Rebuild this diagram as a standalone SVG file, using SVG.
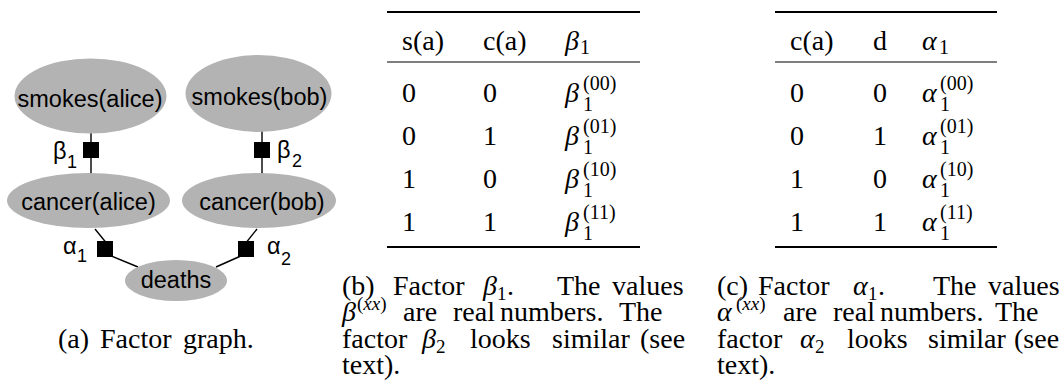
<svg xmlns="http://www.w3.org/2000/svg" width="1060" height="385" viewBox="0 0 1060 385">
<style>
.node{fill:#b3b3b3;stroke:none}
.nl{font-family:"Liberation Sans",Arial,sans-serif;font-size:23.5px;fill:#000;text-anchor:middle}
.fl{font-family:"Liberation Sans",Arial,sans-serif;font-size:23.5px;fill:#000}
.fs{font-size:18px}
.edge{stroke:#000;stroke-width:1.4;fill:none}
.fac{fill:#000}
.t{font-family:"Liberation Serif","Times New Roman",serif;font-size:28px;fill:#000}
.c{font-family:"Liberation Serif","Times New Roman",serif;font-size:28px;fill:#000}
.m{font-style:italic}
.s{font-size:19px}
.ss{font-size:20px}
.thick{stroke:#000;stroke-width:2}
.thin{stroke:#000;stroke-width:1.1}
</style>
<rect width="1060" height="385" fill="#fff"/>
<g id="connectors">
<line class="edge" x1="91" y1="132" x2="91" y2="174"/>
<line class="edge" x1="262" y1="131" x2="262" y2="174"/>
<line class="edge" x1="95" y1="229" x2="108" y2="245"/>
<line class="edge" x1="104" y1="253" x2="138" y2="267"/>
<line class="edge" x1="257" y1="229" x2="245" y2="244"/>
<line class="edge" x1="243" y1="255" x2="216" y2="267"/>
</g>
<g id="smokes_alice"><ellipse class="node" cx="90.5" cy="96" rx="76" ry="37.5"/><text class="nl" x="90" y="107">smokes(alice)</text></g>
<g id="smokes_bob"><ellipse class="node" cx="258.5" cy="93.5" rx="73" ry="38.5"/><text class="nl" x="259.5" y="105">smokes(bob)</text></g>
<g id="cancer_alice"><ellipse class="node" cx="88.5" cy="200.5" rx="81.5" ry="27.5"/><text class="nl" x="88.5" y="210">cancer(alice)</text></g>
<g id="cancer_bob"><ellipse class="node" cx="259" cy="200.5" rx="77" ry="27.5"/><text class="nl" x="262" y="210">cancer(bob)</text></g>
<g id="deaths"><ellipse class="node" cx="176" cy="280.5" rx="51" ry="20.5"/><text class="nl" x="176" y="288">deaths</text></g>
<g id="beta1"><rect class="fac" x="83" y="142" width="16" height="16"/><text class="fl" x="53" y="159">β</text><text class="fl fs" x="67" y="168">1</text></g>
<g id="beta2"><rect class="fac" x="254" y="142" width="16" height="16"/><text class="fl" x="277" y="158">β</text><text class="fl fs" x="292" y="167">2</text></g>
<g id="alpha1"><rect class="fac" x="97" y="241" width="16" height="16"/><text class="fl" x="63" y="254">α</text><text class="fl fs" x="77" y="262">1</text></g>
<g id="alpha2"><rect class="fac" x="238" y="241" width="16" height="16"/><text class="fl" x="267" y="254">α</text><text class="fl fs" x="281" y="265">2</text></g>
<text class="c" y="348"><tspan x="58">(a)</tspan><tspan x="100">Factor</tspan><tspan x="183">graph.</tspan></text>

<g id="table_beta">
<line class="thick" x1="387" y1="12" x2="640" y2="12"/>
<line class="thin" x1="387" y1="62" x2="640" y2="62"/>
<line class="thick" x1="387" y1="247" x2="640" y2="247"/>
<text class="t" y="50"><tspan x="402">s(a)</tspan><tspan x="483">c(a)</tspan><tspan x="565" class="m">β</tspan></text>
<text class="t ss" x="580" y="54">1</text>
<text class="t" y="102"><tspan x="402">0</tspan><tspan x="483">0</tspan><tspan x="565" class="m">β</tspan></text>
<text class="t ss" x="583" y="90">(00)</text><text class="t ss" x="583" y="111">1</text>
<text class="t" y="145"><tspan x="402">0</tspan><tspan x="483">1</tspan><tspan x="565" class="m">β</tspan></text>
<text class="t ss" x="583" y="133">(01)</text><text class="t ss" x="583" y="154">1</text>
<text class="t" y="188"><tspan x="402">1</tspan><tspan x="483">0</tspan><tspan x="565" class="m">β</tspan></text>
<text class="t ss" x="583" y="176">(10)</text><text class="t ss" x="583" y="197">1</text>
<text class="t" y="231"><tspan x="402">1</tspan><tspan x="483">1</tspan><tspan x="565" class="m">β</tspan></text>
<text class="t ss" x="583" y="219">(11)</text><text class="t ss" x="583" y="240">1</text>
</g>

<g id="table_alpha">
<line class="thick" x1="775" y1="12" x2="997" y2="12"/>
<line class="thin" x1="775" y1="62" x2="997" y2="62"/>
<line class="thick" x1="775" y1="247" x2="997" y2="247"/>
<text class="t" y="50"><tspan x="790">c(a)</tspan><tspan x="873">d</tspan><tspan x="922" class="m">α</tspan></text>
<text class="t ss" x="939" y="54">1</text>
<text class="t" y="102"><tspan x="790">0</tspan><tspan x="873">0</tspan><tspan x="922" class="m">α</tspan></text>
<text class="t ss" x="940" y="90">(00)</text><text class="t ss" x="940" y="111">1</text>
<text class="t" y="145"><tspan x="790">0</tspan><tspan x="873">1</tspan><tspan x="922" class="m">α</tspan></text>
<text class="t ss" x="940" y="133">(01)</text><text class="t ss" x="940" y="154">1</text>
<text class="t" y="188"><tspan x="790">1</tspan><tspan x="873">0</tspan><tspan x="922" class="m">α</tspan></text>
<text class="t ss" x="940" y="176">(10)</text><text class="t ss" x="940" y="197">1</text>
<text class="t" y="231"><tspan x="790">1</tspan><tspan x="873">1</tspan><tspan x="922" class="m">α</tspan></text>
<text class="t ss" x="940" y="219">(11)</text><text class="t ss" x="940" y="240">1</text>
</g>

<g id="caption_b">
<text class="c" y="295"><tspan x="342">(b)</tspan><tspan x="393">Factor</tspan><tspan x="483" class="m">β</tspan><tspan x="497" y="300" class="s">1</tspan><tspan x="507" y="295">.</tspan><tspan x="557">The</tspan><tspan x="612">values</tspan></text>
<text class="c" y="321"><tspan x="342" class="m">β</tspan><tspan x="357" y="310" class="s">(<tspan class="m">xx</tspan>)</tspan><tspan x="403" y="321">are</tspan><tspan x="453">real</tspan><tspan x="500">numbers.</tspan><tspan x="619">The</tspan></text>
<text class="c" y="348"><tspan x="342">factor</tspan><tspan x="422" class="m">β</tspan><tspan x="436" y="353" class="s">2</tspan><tspan x="470" y="348">looks</tspan><tspan x="552">similar</tspan><tspan x="640">(see</tspan></text>
<text class="c" x="342" y="374">text).</text>
</g>

<g id="caption_c">
<text class="c" y="295"><tspan x="717">(c)</tspan><tspan x="758">Factor</tspan><tspan x="853" class="m">α</tspan><tspan x="868" y="300" class="s">1</tspan><tspan x="878" y="295">.</tspan><tspan x="933">The</tspan><tspan x="988">values</tspan></text>
<text class="c" y="321"><tspan x="717" class="m">α</tspan><tspan x="736" y="310" class="s">(<tspan class="m">xx</tspan>)</tspan><tspan x="783" y="321">are</tspan><tspan x="833">real</tspan><tspan x="880">numbers.</tspan><tspan x="995">The</tspan></text>
<text class="c" y="348"><tspan x="717">factor</tspan><tspan x="800" class="m">α</tspan><tspan x="815" y="353" class="s">2</tspan><tspan x="847" y="348">looks</tspan><tspan x="928">similar</tspan><tspan x="1014">(see</tspan></text>
<text class="c" x="717" y="374">text).</text>
</g>
</svg>
